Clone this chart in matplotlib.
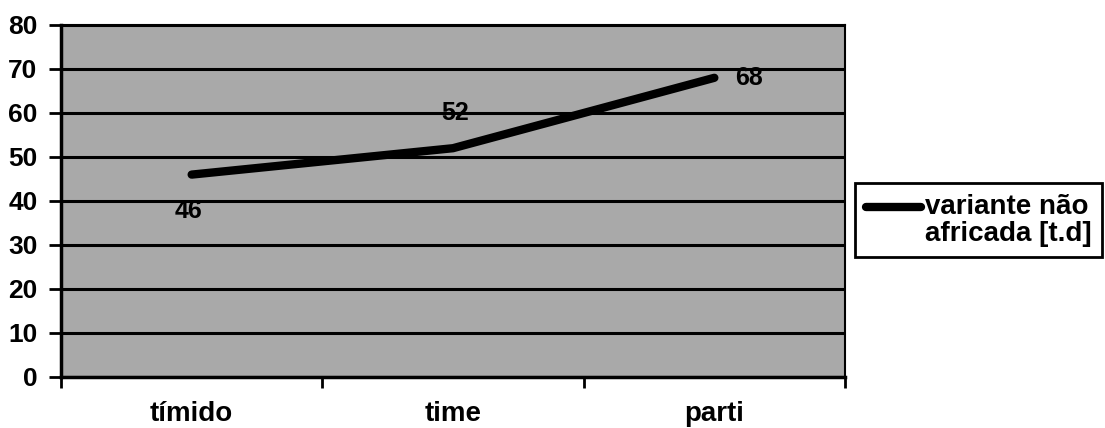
import matplotlib
matplotlib.use('Agg')
import matplotlib.pyplot as plt
from matplotlib.legend_handler import HandlerLine2D

plt.rcParams.update({'font.family': ['Liberation Sans', 'DejaVu Sans'],
                     'font.weight': 'bold'})

categories = ['tímido', 'time', 'parti']
values = [46, 52, 68]
series_name = 'variante não\nafricada [t.d]'
y_ticks = [0, 10, 20, 30, 40, 50, 60, 70, 80]


class FirstLineHandler(HandlerLine2D):
    # put the legend line beside the first text line, as Excel does
    def create_artists(self, legend, orig_handle, xdescent, ydescent,
                       width, height, fontsize, trans):
        return super().create_artists(legend, orig_handle, xdescent,
                                      ydescent - 0.95 * fontsize, width,
                                      height, fontsize, trans)


def plot_chart():
    fig = plt.figure(figsize=(11.05, 4.28), dpi=100)
    ax = fig.add_axes([61 / 1105, 1 - 377 / 428, (845 - 61) / 1105, 352 / 428])
    ax.set_facecolor('#a9a9a9')

    xs = list(range(len(categories)))
    line, = ax.plot(xs, values, color='black', lw=6, solid_capstyle='round',
                    label=series_name, zorder=3)

    # data labels (placed like the original)
    offsets = [(-2, -26), (1.5, 25), (25, 0)]
    for x, v, (dx, dy) in zip(xs, values, offsets):
        ax.annotate(str(v), (x, v), xytext=(dx, dy), textcoords='offset points',
                    ha='center', va='center', fontsize=18, fontweight='bold',
                    zorder=4)

    ax.set_xlim(-0.5, len(categories) - 0.5)
    ax.set_ylim(0, 80)
    ax.set_yticks(y_ticks)
    ax.set_yticklabels([str(t) for t in y_ticks], fontsize=19, fontweight='bold')
    ax.yaxis.grid(True, color='black', lw=2.2, zorder=1)
    ax.set_axisbelow(True)

    ax.set_xticks([i - 0.5 for i in range(len(categories) + 1)])
    ax.set_xticklabels([])
    ax.set_xticks(xs, minor=True)
    ax.set_xticklabels(categories, minor=True, fontsize=20, fontweight='bold')
    ax.tick_params(axis='x', which='minor', length=0, pad=17)
    ax.tick_params(axis='x', which='major', length=8, width=2, direction='out')
    ax.tick_params(axis='y', length=9, width=2, direction='out', pad=8)

    for side in ['left', 'bottom']:
        ax.spines[side].set_linewidth(2.5)
    for side in ['top', 'right']:
        ax.spines[side].set_linewidth(1.5)

    leg = fig.legend(handles=[line], loc='upper left',
                     bbox_to_anchor=(855 / 1105, 1 - 183 / 428),
                     borderaxespad=0, frameon=True, fancybox=False,
                     handlelength=2.0, handletextpad=0.15, borderpad=0.38,
                     handler_map={line: FirstLineHandler()},
                     prop={'weight': 'bold', 'size': 20})
    leg.get_frame().set_edgecolor('black')
    leg.get_frame().set_linewidth(2)
    leg.get_frame().set_alpha(1)
    for t in leg.get_texts():
        t.set_linespacing(1.05)

    fig.savefig('out.png', dpi=100)


if __name__ == '__main__':
    plot_chart()
